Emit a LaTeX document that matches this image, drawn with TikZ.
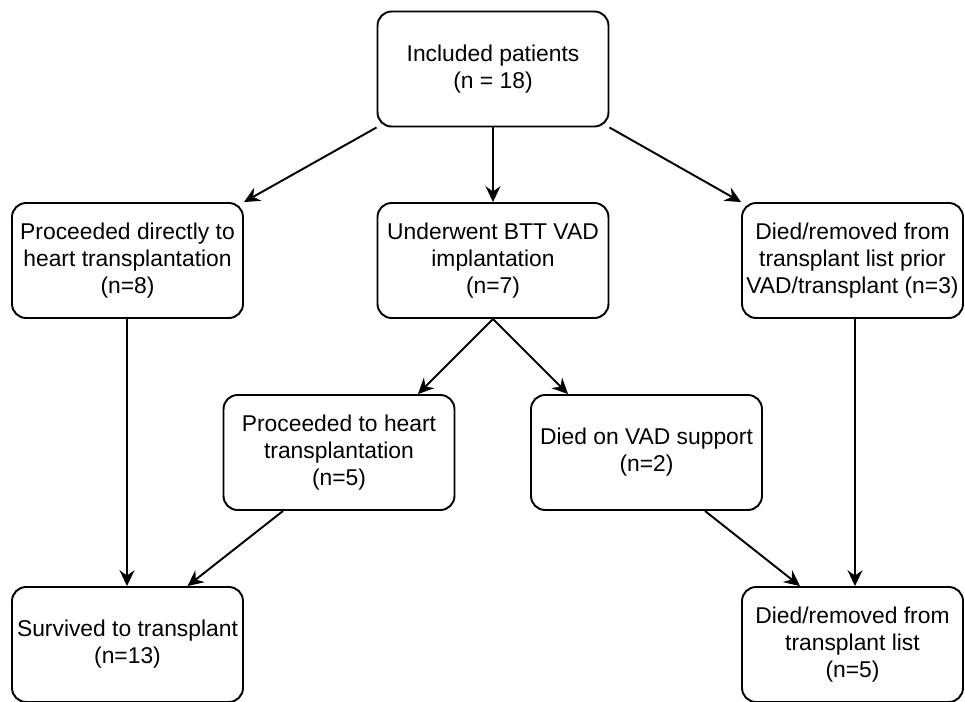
\documentclass[tikz,border=0pt]{standalone}
\usepackage{fontspec}
\setmainfont{Liberation Sans}
\usetikzlibrary{arrows.meta}
\begin{document}
\begin{tikzpicture}[x=0.02cm, y=-0.02cm, >={Stealth[length=9pt,width=8.5pt,inset=3pt]}, line width=1.1pt,
  box/.style={draw, rounded corners=8pt, minimum width=4.62cm, minimum height=2.3cm,
    align=center, inner sep=2pt, font=\fontsize{13}{15.3}\selectfont},
  boxr/.style={box, minimum width=4.42cm}]
\useasboundingbox (0,0) rectangle (965,701);
\clip (0,0) rectangle (965,701);
% Kaesten, erste Reihe
\node[box]  (incl)   at (493,69)    {Included patients\\(n = 18)};
\node[box]  (direct) at (127.5,260.5) {Proceeded directly to\\heart transplantation\\(n=8)};
\node[box]  (vad)    at (493,260.5) {Underwent BTT VAD\\implantation\\(n=7)};
\node[boxr] (prior)  at (852.5,260.5) {Died/removed from\\transplant list prior\\VAD/transplant (n=3)};
% zweite Reihe
\node[box]  (vadtx)  at (339,452.5) {Proceeded to heart\\transplantation\\(n=5)};
\node[box]  (vaddied) at (646.5,452.5) {Died on VAD support\\(n=2)};
% unterste Reihe (unten abgeschnitten)
\node[box]  (surv)   at (127.5,644.5) {Survived to transplant\\(n=13)};
\node[boxr] (died)   at (852.5,644.5) {Died/removed from\\transplant list\\(n=5)};
% Pfeile
\draw[->] (incl.south west) -- (direct.north east);
\draw[->] (incl.south) -- (vad.north);
\draw[->] (incl.south east) -- (prior.north west);
\draw[->] (vad.south) -- ([xshift=1.58cm]vadtx.north);
\draw[->] (vad.south) -- ([xshift=-1.57cm]vaddied.north);
\draw[->] ([xshift=-0.01cm]direct.south) -- ([xshift=-0.01cm]surv.north);
\draw[->] ([xshift=-1.12cm]vadtx.south) -- ([xshift=1.2cm]surv.north);
\draw[->] ([xshift=1.17cm]vaddied.south) -- ([xshift=-1.05cm]died.north);
\draw[->] ([xshift=0.05cm]prior.south) -- ([xshift=0.05cm]died.north);
\end{tikzpicture}
\end{document}
